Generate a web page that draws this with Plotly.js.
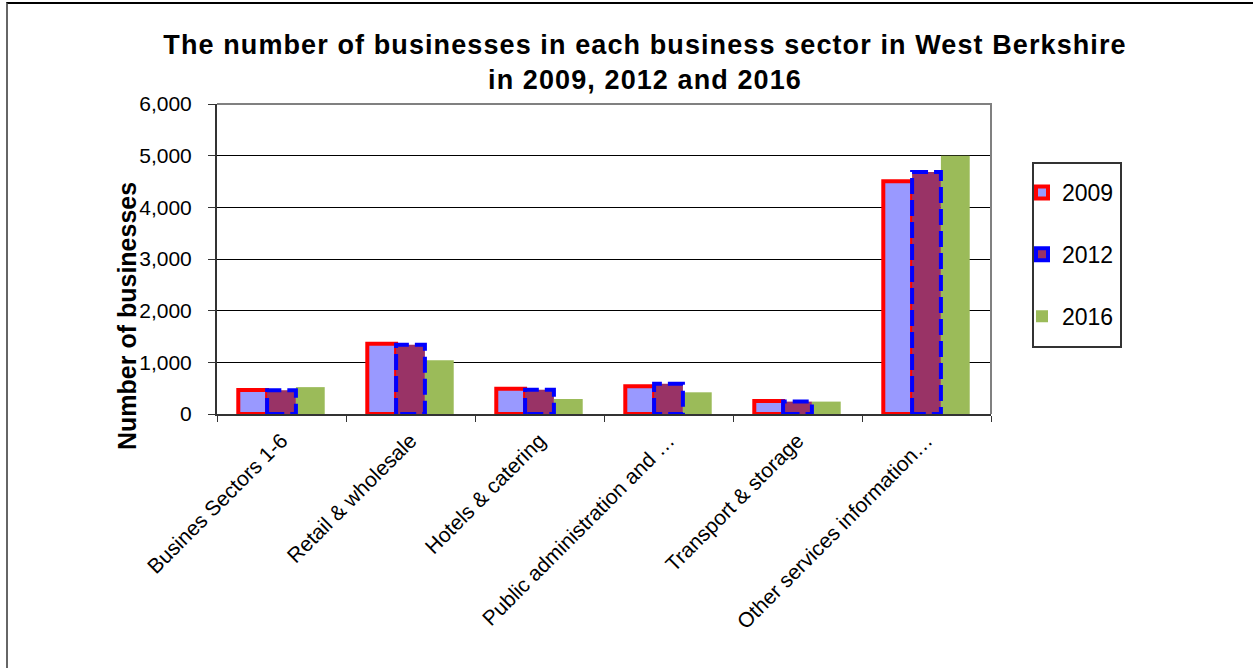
<!DOCTYPE html>
<html>
<head>
<meta charset="utf-8">
<script src="https://cdn.plot.ly/plotly-3.0.1.min.js"></script>
<style>
  html, body { margin: 0; padding: 0; background: #fff; }
  #wrap { position: relative; width: 1253px; height: 668px; overflow: hidden; }
  #chart { position: absolute; left: 0; top: 0; width: 1253px; height: 668px; }
  #frame { position: absolute; left: 6px; top: 2px; width: 1300px; height: 700px;
           border-top: 2px solid #000; border-left: 2px solid #666; pointer-events: none; }
  #chart .gtitle { letter-spacing: 1.1px; }
</style>
</head>
<body>
<div id="wrap">
  <div id="chart"></div>
  <div id="frame"></div>
</div>
<script>
// ---- data ----
const categories = [
  "Busines Sectors 1-6",
  "Retail & wholesale",
  "Hotels & catering",
  "Public administration and …",
  "Transport & storage",
  "Other services information…"
];
const seriesNames = ["2009", "2012", "2016"];
const values2009 = [465, 1360, 490, 535, 250, 4505];
const values2012 = [460, 1340, 470, 585, 240, 4685];
const values2016 = [520, 1040, 290, 420, 240, 5000];
const yTickVals = [0, 1000, 2000, 3000, 4000, 5000, 6000];
const yTickText = ["0", "1,000", "2,000", "3,000", "4,000", "5,000", "6,000"];

// ---- styling ----
const FONT = "Arial, 'Liberation Sans', sans-serif";
const BARGAP = 0.33;
const nSeries = 3;
const barW = (1 - BARGAP) / nSeries;

// plot-area pixel geometry (used to place non-data decorations)
const W = 1253, H = 668;
const PL = 217, PR = 991, PT = 104, PB = 414;
const pw = PR - PL, ph = PB - PT;
const px = v => (v - PL) / pw;      // pixel x -> paper x
const py = v => (PB - v) / ph;      // pixel y -> paper y

const idx = categories.map((c, i) => i);

const t2009 = {
  type: "bar", name: seriesNames[0], x: categories, y: values2009,
  marker: { color: "#9999FF", line: { color: "#FF0000", width: 4 } },
  legendgroup: "a", legendrank: 1, hoverinfo: "skip"
};
const t2012 = {
  type: "bar", name: seriesNames[1], x: categories, y: values2012,
  marker: { color: "#993366", line: { width: 0 } },
  showlegend: false, hoverinfo: "skip"
};
const t2016 = {
  type: "bar", name: seriesNames[2], x: categories, y: values2016,
  marker: { color: "#9BBB59", line: { width: 0 } },
  legendgroup: "c", legendrank: 3, hoverinfo: "skip"
};

// dashed outline for the 2012 bars (middle bar of each group, centred on the category)
const ox = [], oy = [];
idx.forEach(i => {
  const v = values2012[i];
  ox.push(i - barW / 2, i - barW / 2, i + barW / 2, i + barW / 2, i - barW / 2, null);
  oy.push(0, v, v, 0, 0, null);
});
const tOutline = {
  type: "scatter", mode: "lines", x: ox, y: oy, xaxis: "x2", yaxis: "y",
  line: { color: "#0000FF", width: 4, dash: "16px,6px" },
  connectgaps: false, showlegend: false, hoverinfo: "skip"
};
// legend-only entry for 2012 (separate subplot so it does not affect grouping)
const tLegend2012 = {
  type: "bar", name: seriesNames[1], x: [null], y: [null], xaxis: "x2", yaxis: "y",
  marker: { color: "#993366", line: { color: "#0000FF", width: 4 } },
  legendgroup: "b", legendrank: 2, showlegend: true, hoverinfo: "skip"
};

const layout = {
  width: W, height: H,
  paper_bgcolor: "#ffffff", plot_bgcolor: "#ffffff",
  margin: { l: PL, r: W - PR, t: PT, b: H - PB, pad: 0 },
  font: { family: FONT, color: "#000" },
  barmode: "group", bargap: BARGAP, bargroupgap: 0,
  title: {
    text: "<b>The number of businesses in each business sector in West Berkshire<br>in 2009, 2012 and 2016</b>",
    font: { family: FONT, size: 27, color: "#000" },
    x: 645 / W, xref: "container", xanchor: "center",
    y: 1 - 54 / H, yref: "container", yanchor: "top"
  },
  xaxis: {
    type: "category", range: [-0.5, 5.5], tickson: "boundaries",
    ticks: "outside", ticklen: 6, tickwidth: 1, tickcolor: "#333",
    showline: true, linecolor: "#333", linewidth: 2,
    showgrid: false, zeroline: false, tickangle: -45,
    tickfont: { family: FONT, size: 21, color: "#000" },
    ticklabelstandoff: 4, fixedrange: true
  },
  xaxis2: {
    overlaying: "x", range: [-0.5, 5.5], visible: false, fixedrange: true
  },
  yaxis: {
    range: [0, 6000], tickvals: yTickVals, ticktext: yTickText,
    ticks: "outside", ticklen: 7, tickwidth: 1, tickcolor: "#333",
    showline: true, linecolor: "#333", linewidth: 2,
    showgrid: true, gridcolor: "#000", gridwidth: 1, zeroline: false,
    tickfont: { family: FONT, size: 21, color: "#000" },
    ticklabelstandoff: 12,
    fixedrange: true
  },
  annotations: [{
    text: "<b>Number of businesses</b>", textangle: -90, showarrow: false,
    xref: "paper", yref: "paper", x: px(127), y: py(316),
    xanchor: "center", yanchor: "middle",
    font: { family: FONT, size: 25, color: "#000" }
  }],
  shapes: [
    { type: "path", xref: "paper", yref: "paper",
      path: "M 0 1 L 1 1 L 1 0", line: { color: "#808080", width: 2 }, layer: "above" },
    { type: "rect", xref: "paper", yref: "paper",
      x0: px(1033), x1: px(1121), y0: py(347), y1: py(163),
      line: { color: "#333", width: 2 }, fillcolor: "rgba(0,0,0,0)", layer: "above" }
  ],
  legend: {
    x: px(1022), xanchor: "left",
    y: py(171), yanchor: "top",
    borderwidth: 0, bgcolor: "rgba(0,0,0,0)",
    font: { family: FONT, size: 23, color: "#000" },
    traceorder: "grouped", tracegroupgap: 29, itemwidth: 30
  },
  showlegend: true
};

Plotly.newPlot("chart", [t2009, t2012, t2016, tOutline, tLegend2012], layout,
  { displayModeBar: false, staticPlot: true });
</script>
</body>
</html>
